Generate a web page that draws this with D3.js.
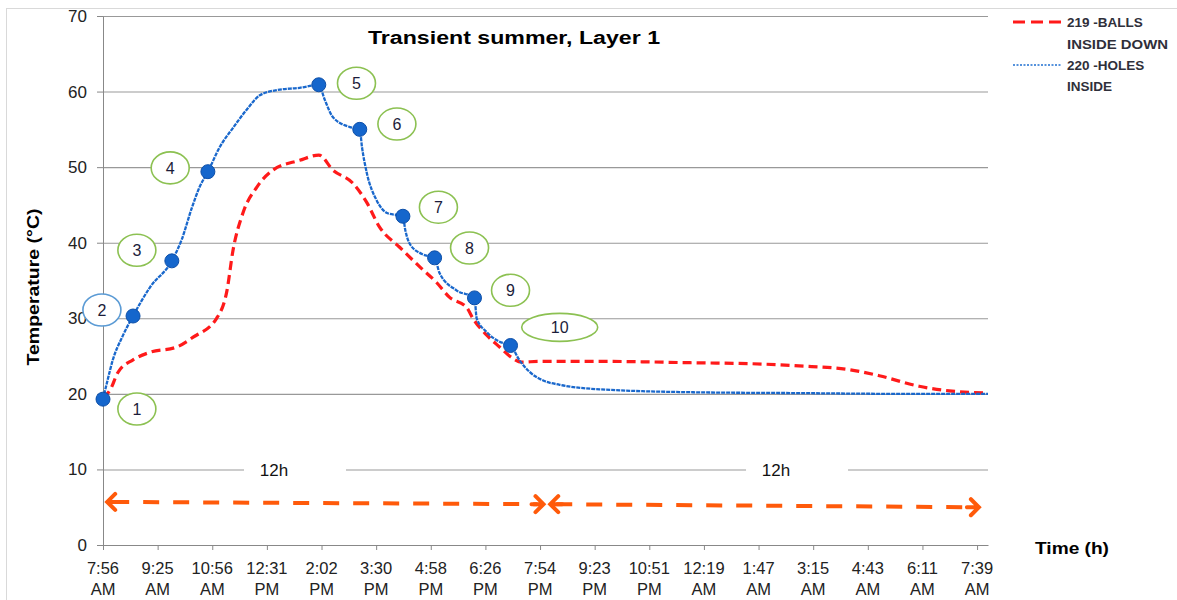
<!DOCTYPE html>
<html>
<head>
<meta charset="utf-8">
<script src="https://cdn.jsdelivr.net/npm/d3@7"></script>
<style>
  html, body { margin: 0; background: #fff; }
  svg { display: block; font-family: "Liberation Sans", Arial, sans-serif; }
</style>
</head>
<body>
<svg id="chart" width="1177" height="600"></svg>
<script>
// Category labels along the time axis (one every tick slot)
const timeLabels = [
  "7:56 AM", "9:25 AM", "10:56 AM", "12:31 PM", "2:02 PM", "3:30 PM",
  "4:58 PM", "6:26 PM", "7:54 PM", "9:23 PM", "10:51 PM", "12:19 AM",
  "1:47 AM", "3:15 AM", "4:43 AM", "6:11 AM", "7:39 AM"
];
const tempTicks = [0, 10, 20, 30, 40, 50, 60, 70];

// 220 - HOLES INSIDE (slot = position in tick units, temp in °C)
const holesSlot = [0, 0.07, 0.18, 0.35, 0.55, 0.86, 1.26, 1.44, 1.63, 1.77, 1.92, 2.14, 2.38, 2.63, 2.87,
  3.18, 3.6, 3.95, 4.06, 4.21, 4.52, 4.7, 4.74, 4.83, 5.01, 5.21, 5.49, 5.53, 5.62, 5.84, 6.07, 6.16, 6.47,
  6.8, 6.84, 7.02, 7.26, 7.46, 7.62, 7.81, 8.08, 8.36, 9.09, 10.92, 12.74, 14.57, 16.2];
const holesTemp = [19.3, 21.4, 24.5, 27.5, 30.3, 34.1, 37.6, 40.4, 44.7, 47.4, 49.4, 52.7, 55.2, 57.6, 59.5,
  60.2, 60.5, 60.9, 58.9, 56.6, 55.3, 55.0, 52.7, 49.2, 45.6, 43.9, 43.5, 41.8, 39.8, 38.5, 38.0, 36.0, 33.7,
  32.7, 30.0, 28.2, 26.9, 26.4, 24.5, 22.9, 21.7, 21.2, 20.6, 20.2, 20.1, 20.0, 20.0];

// 219 - BALLS INSIDE DOWN
const ballsSlot = [0, 0.13, 0.27, 0.55, 0.86, 1.35, 1.65, 2.08, 2.27, 2.38, 2.56, 2.82, 3.11, 3.6, 3.95,
  4.21, 4.57, 4.83, 5.06, 5.43, 5.8, 6.11, 6.34, 6.66, 6.77, 7.02, 7.26, 7.5, 7.66, 7.99, 9.09, 10.92,
  11.83, 12.74, 13.66, 14.21, 14.94, 15.49, 16.2];
const ballsTemp = [19.5, 20.5, 22.8, 24.5, 25.5, 26.2, 27.5, 30.0, 33.7, 39.0, 43.9, 47.4, 49.6, 50.9, 51.6,
  49.6, 47.9, 45.3, 42.1, 39.4, 36.8, 34.7, 32.8, 31.4, 30.0, 27.8, 26.2, 24.7, 24.2, 24.3, 24.3, 24.1,
  24.0, 23.7, 23.2, 22.4, 21.0, 20.4, 20.1];

// Numbered measurement points on the holes curve
const pointSlot = [0, 0.55, 1.26, 1.92, 3.95, 4.7, 5.49, 6.07, 6.8, 7.46];
const pointTemp = [19.3, 30.3, 37.6, 49.4, 60.9, 55.0, 43.5, 38.0, 32.7, 26.4];
const pointNames = ["1", "2", "3", "4", "5", "6", "7", "8", "9", "10"];
// Callout bubble centres for the numbered points
const calloutSlot = [0.62, -0.02, 0.62, 1.23, 4.64, 5.38, 6.14, 6.71, 7.46, 8.36];
const calloutTemp = [18.0, 31.1, 39.0, 49.9, 61.1, 55.7, 44.7, 39.3, 33.7, 28.8];

// Two 12-hour spans shown as double arrows
const spanFromSlot = [0.04, 8.15];
const spanToSlot = [8.1, 16.07];
const spanFromTemp = [5.7, 5.4];
const spanToTemp = [5.4, 5.0];
const spanLabels = ["12h", "12h"];
const spanLabelSlot = [3.13, 12.32];

const svg = d3.select("#chart");
const x = d3.scaleLinear().domain([0, 16.2]).range([103, 988]);
const y = d3.scaleLinear().domain([0, 70]).range([545, 16]);

// outer chart frame
svg.append("rect").attr("x", 6.5).attr("y", 8.5).attr("width", 1200).attr("height", 620)
  .attr("fill", "none").attr("stroke", "#d9d9d9");

// horizontal gridlines
svg.append("g").selectAll("line").data(tempTicks.filter(d => d > 0)).join("line")
  .attr("x1", x(0)).attr("x2", x.range()[1])
  .attr("y1", d => y(d) + 0.5).attr("y2", d => y(d) + 0.5)
  .attr("stroke", "#999").attr("stroke-width", 1.1);

// y axis
const yAxis = svg.append("g").attr("transform", `translate(${x(0)},0)`)
  .call(d3.axisLeft(y).tickValues(tempTicks).tickSize(6).tickSizeOuter(0).tickPadding(10));
yAxis.select(".domain").attr("stroke", "#888");
yAxis.selectAll(".tick line").attr("stroke", "#888");
yAxis.selectAll(".tick text").attr("font-size", 17).attr("fill", "#222")
  .attr("font-family", "Liberation Sans, Arial, sans-serif");

// x axis with two-line time labels
const xAxis = svg.append("g").attr("transform", `translate(0,${y(0)})`)
  .call(d3.axisBottom(x).tickValues(d3.range(timeLabels.length)).tickSize(5).tickSizeOuter(0).tickFormat(""));
xAxis.select(".domain").attr("stroke", "#888");
xAxis.selectAll(".tick line").attr("stroke", "#888");
xAxis.selectAll(".tick text").remove();
const xl = svg.append("g").attr("font-size", 16.5).attr("fill", "#222").attr("text-anchor", "middle");
timeLabels.forEach((lab, i) => {
  const [hm, ap] = lab.split(" ");
  const t = xl.append("text").attr("x", x(i)).attr("y", 574);
  t.append("tspan").attr("x", x(i)).text(hm);
  t.append("tspan").attr("x", x(i)).attr("y", 595).text(ap);
});

// "12h" labels sitting on the 10 °C line
spanLabels.forEach((lab, i) => {
  const cx = x(spanLabelSlot[i]);
  svg.append("rect").attr("x", cx - 30).attr("y", y(10) - 6).attr("width", 102).attr("height", 13)
    .attr("fill", "#fff");
  svg.append("text").attr("x", cx).attr("y", y(10) + 7).attr("text-anchor", "middle")
    .attr("font-size", 17).attr("fill", "#111").text(lab);
});

// double arrows for the two 12 h periods
const arrowColor = "#ff5a0a";
spanFromSlot.forEach((s, i) => {
  const x1 = x(s), y1 = y(spanFromTemp[i]), x2 = x(spanToSlot[i]), y2 = y(spanToTemp[i]);
  svg.append("line").attr("x1", x1 + 8).attr("y1", y1).attr("x2", x2 - 8).attr("y2", y2)
    .attr("stroke", arrowColor).attr("stroke-width", 4).attr("stroke-dasharray", "16 14");
  svg.append("path").attr("d", `M${x1 + 10},${y1 - 8} L${x1 + 2},${y1} L${x1 + 10},${y1 + 8} M${x1 + 3},${y1} L${x1 + 14},${y1}`)
    .attr("fill", "none").attr("stroke", arrowColor).attr("stroke-width", 4)
    .attr("stroke-linejoin", "miter").attr("stroke-linecap", "round");
  svg.append("path").attr("d", `M${x2 - 10},${y2 - 8} L${x2 - 2},${y2} L${x2 - 10},${y2 + 8} M${x2 - 3},${y2} L${x2 - 14},${y2}`)
    .attr("fill", "none").attr("stroke", arrowColor).attr("stroke-width", 4)
    .attr("stroke-linejoin", "miter").attr("stroke-linecap", "round");
});

// series lines
const line = d3.line().x(d => x(d[0])).y(d => y(d[1])).curve(d3.curveMonotoneX);
svg.append("path").datum(ballsSlot.map((s, i) => [s, ballsTemp[i]]))
  .attr("d", line).attr("fill", "none").attr("stroke", "#ff1a1a")
  .attr("stroke-width", 3.2).attr("stroke-dasharray", "9 5");
svg.append("path").datum(holesSlot.map((s, i) => [s, holesTemp[i]]))
  .attr("d", line).attr("fill", "none").attr("stroke", "#1a68cc")
  .attr("stroke-width", 2.3).attr("stroke-dasharray", "4 1");

// markers
svg.append("g").selectAll("circle").data(pointSlot).join("circle")
  .attr("cx", d => x(d)).attr("cy", (d, i) => y(pointTemp[i])).attr("r", 7)
  .attr("fill", "#1566cc").attr("stroke", "#0d4fa8").attr("stroke-width", 1);

// numbered callouts
const co = svg.append("g");
pointNames.forEach((n, i) => {
  const cx = x(calloutSlot[i]), cy = y(calloutTemp[i]);
  co.append("ellipse").attr("cx", cx).attr("cy", cy)
    .attr("rx", n.length > 1 ? 38 : 19).attr("ry", n.length > 1 ? 14 : 16)
    .attr("fill", "#fff").attr("stroke", i === 1 ? "#5b9bd5" : "#8cc152").attr("stroke-width", 1.6);
  co.append("text").attr("x", cx).attr("y", cy + 6).attr("text-anchor", "middle")
    .attr("font-size", 16).attr("fill", "#1c1c3a").text(n);
});

// title and axis titles
svg.append("text").attr("x", 514).attr("y", 44).attr("text-anchor", "middle")
  .attr("font-size", 18).attr("font-weight", "bold").attr("fill", "#000")
  .attr("textLength", 292).attr("lengthAdjust", "spacingAndGlyphs").text("Transient summer, Layer 1");
svg.append("text").attr("transform", "translate(39,287) rotate(-90)").attr("text-anchor", "middle")
  .attr("font-size", 17).attr("font-weight", "bold").attr("fill", "#000")
  .attr("textLength", 157).attr("lengthAdjust", "spacingAndGlyphs").text("Temperature (°C)");
svg.append("text").attr("x", 1035).attr("y", 554)
  .attr("font-size", 17).attr("font-weight", "bold").attr("fill", "#000")
  .attr("textLength", 74).attr("lengthAdjust", "spacingAndGlyphs").text("Time (h)");

// legend
const lg = svg.append("g").attr("font-size", 13.5).attr("font-weight", "bold").attr("fill", "#2f2f3a");
lg.append("line").attr("x1", 1013).attr("x2", 1062).attr("y1", 22).attr("y2", 22)
  .attr("stroke", "#ff1a1a").attr("stroke-width", 3).attr("stroke-dasharray", "12 6");
lg.append("line").attr("x1", 1013).attr("x2", 1062).attr("y1", 65).attr("y2", 65)
  .attr("stroke", "#1f6fd1").attr("stroke-width", 1.5).attr("stroke-dasharray", "2 1.5");
lg.append("text").attr("x", 1067).attr("y", 27).text("219 -BALLS");
lg.append("text").attr("x", 1067).attr("y", 49).attr("textLength", 101).attr("lengthAdjust", "spacingAndGlyphs").text("INSIDE DOWN");
lg.append("text").attr("x", 1067).attr("y", 70).text("220 -HOLES");
lg.append("text").attr("x", 1067).attr("y", 91).text("INSIDE");
</script>
</body>
</html>
